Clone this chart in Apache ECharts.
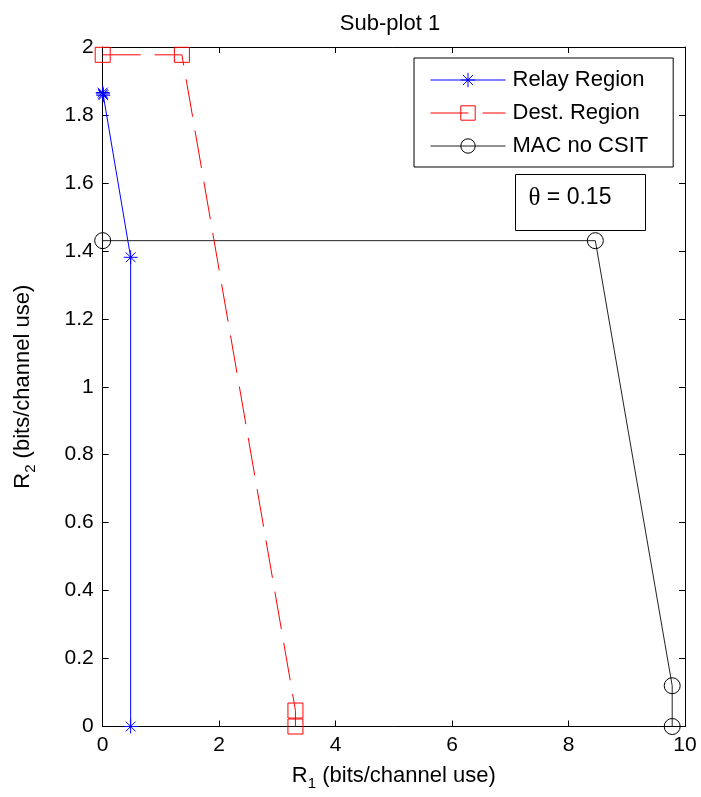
<!DOCTYPE html>
<html>
<head>
<meta charset="utf-8">
<script src="https://cdn.jsdelivr.net/npm/echarts@6/dist/echarts.min.js"></script>
<style>html,body{margin:0;padding:0;background:#fff}#c{width:701px;height:797px}</style>
</head>
<body>
<div id="c"></div>
<script>
// ---- data ----
const titleText = 'Sub-plot 1';
const xTicks = [0, 2, 4, 6, 8, 10];
const yTicks = [0, 0.2, 0.4, 0.6, 0.8, 1, 1.2, 1.4, 1.6, 1.8, 2];
const seriesNames = ['Relay Region', 'Dest. Region', 'MAC no CSIT'];
const relayR1 = [0, 0.005, 0.01, 0.48, 0.48];
const relayR2 = [1.866, 1.862, 1.858, 1.381, 0];
const destR1 = [0, 1.36, 3.31, 3.31];
const destR2 = [1.977, 1.977, 0.047, 0];
const macR1 = [0, 8.46, 9.78, 9.78];
const macR2 = [1.430, 1.430, 0.120, 0];
const thetaLabel = '0.15';

const FONT = 'Liberation Sans, Arial, sans-serif';
const zip = (a, b) => a.map((v, i) => [v, b[i]]);
const starPath = 'path://M0,-10L0,10M-10,0L10,0M-7,-7L7,7M-7,7L7,-7';

const chart = echarts.init(document.getElementById('c'), null, {renderer: 'canvas'});
const axisCommon = {
  axisLine: {show: true, onZero: false, lineStyle: {color: '#000', width: 1}},
  axisTick: {show: true, inside: true, length: 6, lineStyle: {color: '#000'}},
  splitLine: {show: false}
};
const nameRich = {
  m: {fontSize: 22, fontFamily: FONT, color: '#000', verticalAlign: 'top', lineHeight: 24},
  s: {fontSize: 15, fontFamily: FONT, color: '#000', verticalAlign: 'top', lineHeight: 16, padding: [12, 0, 0, 0]}
};
chart.setOption({
  animation: false,
  backgroundColor: '#fff',
  textStyle: {fontFamily: FONT},
  title: {
    text: titleText, left: 385, top: 8, textAlign: 'center',
    textStyle: {fontFamily: FONT, fontSize: 22, fontWeight: 'normal', color: '#000'}
  },
  grid: {left: 102.7, right: 16, top: 47, bottom: 70.5, containLabel: false},
  xAxis: [
    Object.assign({}, axisCommon, {
      type: 'value', min: xTicks[0], max: xTicks[xTicks.length - 1], interval: xTicks[1] - xTicks[0],
      position: 'bottom',
      axisLabel: {color: '#000', fontSize: 21, fontFamily: FONT, margin: 8},
      name: '{m|R}{s|1}{m| (bits/channel use)}', nameLocation: 'middle', nameGap: 38,
      nameTextStyle: {rich: nameRich}
    }),
    Object.assign({}, axisCommon, {
      type: 'value', min: xTicks[0], max: xTicks[xTicks.length - 1], interval: xTicks[1] - xTicks[0],
      position: 'top', axisLabel: {show: false}
    })
  ],
  yAxis: [
    Object.assign({}, axisCommon, {
      type: 'value', min: yTicks[0], max: yTicks[yTicks.length - 1], interval: 0.2,
      position: 'left',
      axisLabel: {color: '#000', fontSize: 21, fontFamily: FONT, margin: 9,
        formatter: v => String(Math.round(v * 10) / 10)},
      name: '{m|R}{s|2}{m| (bits/channel use)}', nameLocation: 'middle', nameGap: 67, nameRotate: 90,
      nameTextStyle: {rich: nameRich}
    }),
    Object.assign({}, axisCommon, {
      type: 'value', min: yTicks[0], max: yTicks[yTicks.length - 1], interval: 0.2,
      position: 'right', axisLabel: {show: false}
    })
  ],
  legend: {
    orient: 'vertical', left: 414, top: 58,
    data: seriesNames,
    backgroundColor: '#fff', borderColor: '#000', borderWidth: 1,
    padding: [11, 25, 10, 16],
    itemWidth: 75, itemHeight: 18, itemGap: 11,
    lineStyle: {width: 1},
    itemStyle: {borderWidth: 1},
    textStyle: {fontFamily: FONT, fontSize: 22, color: '#000', lineHeight: 22, padding: [0, 0, 0, 2]}
  },
  graphic: [{
    type: 'group', left: 515, top: 174,
    children: [
      {type: 'rect', shape: {x: 0, y: 0, width: 130, height: 56},
       style: {fill: '#fff', stroke: '#000', lineWidth: 1}},
      {type: 'text', left: 13, top: 11,
       style: {rich: {
         t: {fontFamily: 'Liberation Serif, serif', fontSize: 25, fill: '#000'},
         n: {fontFamily: FONT, fontSize: 23, fill: '#000'}
       }, text: '{t|θ}{n| = ' + thetaLabel + '}'}}
    ]
  }],
  series: [
    {
      name: seriesNames[0], type: 'line', data: zip(relayR1, relayR2), clip: false,
      symbol: starPath, symbolSize: 14, showAllSymbol: true,
      lineStyle: {color: '#0000ff', width: 1},
      itemStyle: {color: '#0000ff', borderColor: '#0000ff', borderWidth: 1},
      emphasis: {disabled: true}, z: 3
    },
    {
      name: seriesNames[1], type: 'line', data: zip(destR1, destR2), clip: false,
      symbol: 'rect', symbolSize: 15, showAllSymbol: true,
      lineStyle: {color: '#ff0000', width: 1, type: [38, 14]},
      itemStyle: {color: 'rgba(0,0,0,0)', borderColor: '#ff0000', borderWidth: 1},
      emphasis: {disabled: true}, z: 2
    },
    {
      name: seriesNames[2], type: 'line', data: zip(macR1, macR2), clip: false,
      symbol: 'circle', symbolSize: 16, showAllSymbol: true,
      lineStyle: {color: '#222', width: 1},
      itemStyle: {color: 'rgba(0,0,0,0)', borderColor: '#000', borderWidth: 1},
      emphasis: {disabled: true}, z: 1
    }
  ]
});
</script>
</body>
</html>
